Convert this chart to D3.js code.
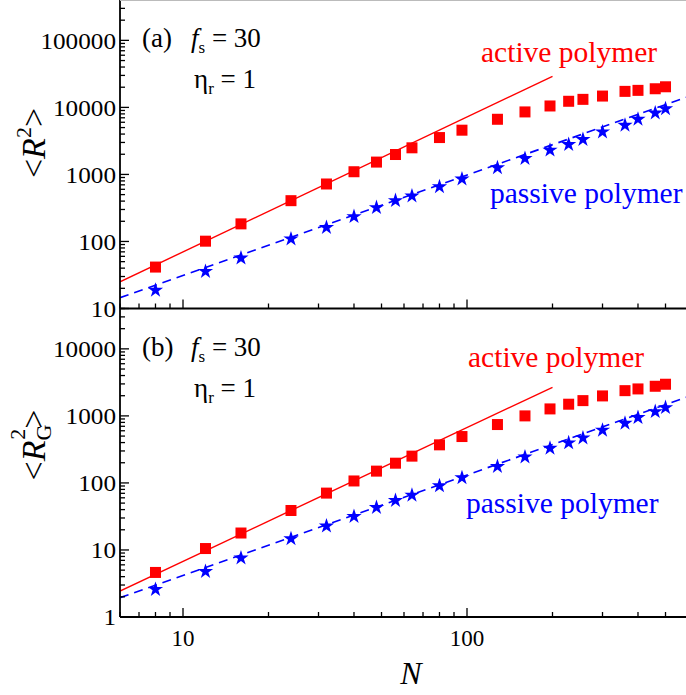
<!DOCTYPE html>
<html><head><meta charset="utf-8">
<script src="https://cdn.jsdelivr.net/npm/d3@7/dist/d3.min.js"></script>
<style>body{margin:0;background:#fff}svg{display:block}</style>
</head><body>
<script>
// ---- data ----
const N = [8,12,16,24,32,40,48,56,64,80,96,128,160,196,228,256,300,360,400,460,500];
const R2_active  = [41.5,101,183,406,720,1097,1528,1982,2495,3548,4571,6650,8560,10500,12340,13180,14760,17340,17950,18970,20300];
const R2_passive = [19.4,37,58.5,113,167,243,331,421,494,679,884,1301,1790,2384,2890,3428,4460,5610,6890,8550,9900];
const Rg2_active  = [4.62,10.5,17.9,38.8,70.5,107,150,197,251,370,492,743,1000,1271,1494,1690,1986,2380,2525,2767,2967];
const Rg2_passive = [2.67,4.95,7.84,15.2,23.5,32.7,44.5,56.6,68,93.7,124,182,253,341,410,486,634,805,977,1199,1376];
// fit lines (power laws) endpoints
const fitActiveN = [6,200];
const fitPassiveN = [6,600];
const R2_fitActive = [25,29000];
const R2_fitPassive = [14.5,14400];
const Rg2_fitActive = [2.44,2670];
const Rg2_fitPassive = [1.94,1930];
const xTickLabels = [10,100];
const yTickLabelsTop = [10,100,1000,10000,100000];
const yTickLabelsBottom = [1,10,100,1000,10000];

const FONT='"Liberation Serif","Times New Roman",Times,"DejaVu Serif",serif';
const W=686,H=695;
const svg=d3.select("body").append("svg").attr("width",W).attr("height",H).attr("font-family",FONT);
const x=d3.scaleLog().domain([6,600]).range([120,688]);
const yTop=d3.scaleLog().domain([10,4e5]).range([308.5,0]);
const yBot=d3.scaleLog().domain([1,4e4]).range([617,308.5]);
const RED="#ff0000",BLUE="#0000ff";

function txt(sel){return sel.append("text").attr("font-family",FONT);}
function minorTicks(lo,hi){const t=[];for(let e=Math.floor(Math.log10(lo));e<=Math.ceil(Math.log10(hi));e++){for(let m=1;m<10;m++){const v=m*Math.pow(10,e);if(v>=lo*0.999&&v<=hi*1.001)t.push(v);}}return t;}

function panel(y,act,pas,fitA,fitP,labels,id){
  const g=svg.append("g");
  const [y0,y1]=y.range();
  svg.append("clipPath").attr("id",id).append("rect").attr("x",120).attr("y",y1).attr("width",W-120).attr("height",y0-y1);
  const pg=g.append("g").attr("clip-path",`url(#${id})`);
  const line=d3.line().x(d=>x(d[0])).y(d=>y(d[1]));
  pg.append("path").datum(fitActiveN.map((n,i)=>[n,fitA[i]])).attr("d",line).attr("fill","none").attr("stroke",RED).attr("stroke-width",1.4);
  pg.append("path").datum(fitPassiveN.map((n,i)=>[n,fitP[i]])).attr("d",line).attr("fill","none").attr("stroke",BLUE).attr("stroke-width",1.6).attr("stroke-dasharray","9,6");
  pg.selectAll(".sq").data(N.map((n,i)=>[n,act[i]])).enter().append("rect")
    .attr("x",d=>x(d[0])-5.5).attr("y",d=>y(d[1])-5.5).attr("width",11).attr("height",11).attr("fill",RED);
  const star=d3.symbol().type(d3.symbolStar).size(72);
  pg.selectAll(".st").data(N.map((n,i)=>[n,pas[i]])).enter().append("path")
    .attr("d",star).attr("transform",d=>`translate(${x(d[0])},${y(d[1])+1})`).attr("fill",BLUE);
  // y ticks
  const [d0,d1]=y.domain();
  minorTicks(d0,d1).forEach(v=>{
    const major=Math.abs(Math.log10(v)-Math.round(Math.log10(v)))<1e-9;
    g.append("line").attr("x1",120).attr("x2",120+(major?9:5)).attr("y1",y(v)).attr("y2",y(v)).attr("stroke","#000").attr("stroke-width",1.3);
  });
  labels.forEach(v=>{
    txt(g).attr("x",116).attr("y",y(v)).attr("dy","0.35em").attr("text-anchor","end").attr("font-size",24)
      .attr("transform",`translate(116,0) scale(1.05,1) translate(-116,0)`).text(v);
  });
  // x ticks on bottom axis
  minorTicks(6,600).forEach(v=>{
    const major=Math.abs(Math.log10(v)-Math.round(Math.log10(v)))<1e-9;
    g.append("line").attr("x1",x(v)).attr("x2",x(v)).attr("y1",y0).attr("y2",y0-(major?9:5)).attr("stroke","#000").attr("stroke-width",1.3);
  });
  g.append("line").attr("x1",120).attr("x2",W).attr("y1",y0).attr("y2",y0).attr("stroke","#000").attr("stroke-width",1.8);
  return g;
}
panel(yTop,R2_active,R2_passive,R2_fitActive,R2_fitPassive,yTickLabelsTop,"cT");
panel(yBot,Rg2_active,Rg2_passive,Rg2_fitActive,Rg2_fitPassive,yTickLabelsBottom,"cB");
// left axis line and top border
svg.append("line").attr("x1",120).attr("x2",120).attr("y1",0).attr("y2",617).attr("stroke","#000").attr("stroke-width",1.8);
svg.append("line").attr("x1",120).attr("x2",W).attr("y1",0.5).attr("y2",0.5).attr("stroke","#bbb").attr("stroke-width",1);
// x tick labels
xTickLabels.forEach(v=>{
  txt(svg).attr("x",x(v)).attr("y",646).attr("text-anchor","middle").attr("font-size",23).text(v);
});
// axis titles
txt(svg).attr("x",411).attr("y",684).attr("text-anchor","middle").attr("font-size",32).attr("font-style","italic").text("N");
function yTitle(cy,sub){
  const t=txt(svg).attr("transform",`translate(45,${cy}) rotate(-90)`).attr("text-anchor","middle").attr("font-size",34);
  t.append("tspan").text("<");
  t.append("tspan").attr("font-style","italic").text("R");
  if(sub){
    t.append("tspan").attr("font-size",22).attr("dy",6).text("G");
    t.append("tspan").attr("font-size",22).attr("dx",-15).attr("dy",-26).text("2");
    t.append("tspan").attr("dy",20).text(">");
  } else {
    t.append("tspan").attr("font-size",22).attr("dy",-14).text("2");
    t.append("tspan").attr("dy",14).text(">");
  }
}
yTitle(143,false);
yTitle(445,true);
// annotations
function annot(off,letter){
  txt(svg).attr("x",142).attr("y",47+off).attr("font-size",27).text(`(${letter})`);
  const t=txt(svg).attr("x",191).attr("y",47+off).attr("font-size",27);
  t.append("tspan").attr("font-style","italic").text("f");
  t.append("tspan").attr("font-size",17).attr("dy",6).text("s");
  t.append("tspan").attr("dy",-6).text(" = 30");
  const e=txt(svg).attr("x",194).attr("y",88+off).attr("font-size",27);
  e.append("tspan").text("η");
  e.append("tspan").attr("font-size",17).attr("dy",6).text("r");
  e.append("tspan").attr("dy",-6).text(" = 1");
}
annot(0,"a");annot(309,"b");
function lab(xx,yy,t,col){txt(svg).attr("x",xx).attr("y",yy).attr("font-size",29.5).attr("fill",col).text(t);}
lab(481,62,"active polymer",RED);
lab(490,203,"passive polymer",BLUE);
lab(468,367,"active polymer",RED);
lab(466,513,"passive polymer",BLUE);
</script>
</body></html>
